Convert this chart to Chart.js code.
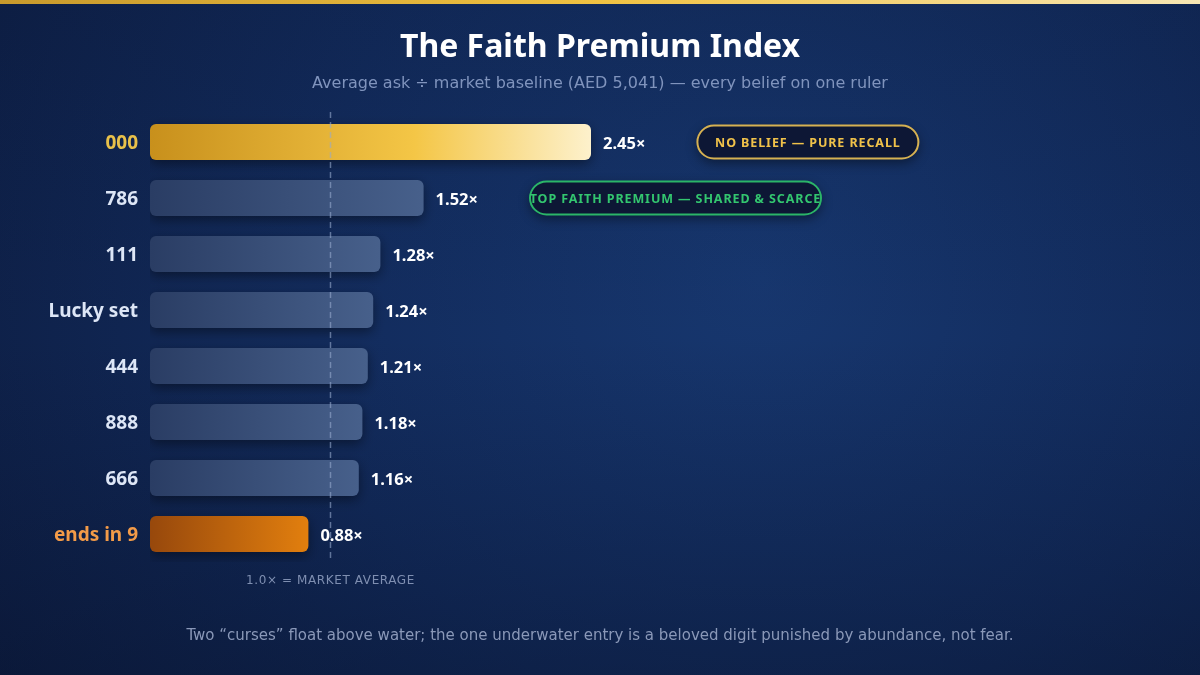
<!DOCTYPE html>
<html><head><meta charset="utf-8">
<script src="https://cdn.jsdelivr.net/npm/chart.js@4"></script>
<style>html,body{margin:0;padding:0;background:#0c1a3b;}#wrap{width:1200px;height:675px;position:relative;}</style>
</head><body><div id="wrap"><canvas id="c" width="1200" height="675"></canvas></div>
<script>
const categories = ["000","786","111","Lucky set","444","888","666","ends in 9"];
const values = [2.45,1.52,1.28,1.24,1.21,1.18,1.16,0.88];
const valueLabels = ["2.45×","1.52×","1.28×","1.24×","1.21×","1.18×","1.16×","0.88×"];
const baseline = 1.0;
const baselineLabel = "1.0× = MARKET AVERAGE";
const badgeRows = [0,1];
const badgeTexts = ["NO BELIEF — PURE RECALL","TOP FAITH PREMIUM — SHARED & SCARCE"];
const titleText = "The Faith Premium Index";
const subtitleText = "Average ask ÷ market baseline (AED 5,041) — every belief on one ruler";
const footerText = "Two “curses” float above water; the one underwater entry is a beloved digit punished by abundance, not fear.";

const BOLD = '"Noto Sans", "Open Sans", sans-serif';
const REG = '"DejaVu Sans", sans-serif';

function barGradient(ctx){
  const chart = ctx.chart;
  const area = chart.chartArea;
  if(!area) return '#3a5080';
  const xs = chart.scales.x;
  const i = ctx.dataIndex;
  const x0 = xs.getPixelForValue(0), x1 = xs.getPixelForValue(values[i]);
  const g = chart.ctx.createLinearGradient(x0,0,x1,0);
  if(i===0){ g.addColorStop(0,'#c8901c'); g.addColorStop(0.6,'#f4c646'); g.addColorStop(1,'#fdf1cc'); }
  else if(i===values.length-1){ g.addColorStop(0,'#97480c'); g.addColorStop(1,'#e27f0e'); }
  else { g.addColorStop(0,'#2a3d64'); g.addColorStop(1,'#47608b'); }
  return g;
}

const bgPlugin = {
  id:'bg',
  beforeDraw(chart){
    const c = chart.ctx;
    c.save();
    const g = c.createRadialGradient(760,280,0,760,280,900);
    g.addColorStop(0,'#17376f'); g.addColorStop(0.5,'#122b5c'); g.addColorStop(1,'#0d1d42');
    c.fillStyle = g; c.fillRect(0,0,1200,675);
    const v = c.createLinearGradient(0,0,0,675);
    v.addColorStop(0,'rgba(8,18,45,0.15)'); v.addColorStop(0.5,'rgba(8,18,45,0)'); v.addColorStop(1,'rgba(6,14,36,0.35)');
    c.fillStyle = v; c.fillRect(0,0,1200,675);
    const t = c.createLinearGradient(0,0,1200,0);
    t.addColorStop(0,'#c89a2c'); t.addColorStop(0.5,'#f0c242'); t.addColorStop(1,'#f8e7b4');
    c.fillStyle = t; c.fillRect(0,0,1200,4);
    c.textAlign='center'; c.textBaseline='middle';
    c.fillStyle='#ffffff'; c.font='bold 32px '+BOLD;
    c.fillText(titleText,600,48);
    c.fillStyle='#8094bd'; c.font='16px '+REG;
    c.fillText(subtitleText,600,84);
    c.fillStyle='#8a98b8'; c.font='15px '+REG;
    c.fillText(footerText,600,636);
    c.restore();
  },
  beforeDatasetsDraw(chart){
    const c = chart.ctx; c.save();
    c.shadowColor='rgba(0,0,0,0.4)'; c.shadowBlur=12; c.shadowOffsetY=4;
  },
  afterDatasetsDraw(chart){
    chart.ctx.restore();
    const c = chart.ctx;
    const xs = chart.scales.x, ys = chart.scales.y;
    c.save();
    const bx = Math.round(xs.getPixelForValue(baseline))+0.5;
    c.strokeStyle='rgba(150,170,205,0.6)'; c.lineWidth=1.5; c.setLineDash([6,4]);
    c.beginPath(); c.moveTo(bx,chart.chartArea.top-2); c.lineTo(bx,chart.chartArea.bottom-2); c.stroke();
    c.setLineDash([]);
    c.font='12px '+REG; c.letterSpacing='0.6px'; c.fillStyle='#7f8fb1'; c.textAlign='center'; c.textBaseline='middle';
    c.fillText(baselineLabel,bx,581);
    c.letterSpacing='0px';
    const valueEnds = [];
    categories.forEach((cat,i)=>{
      const y = ys.getPixelForValue(i);
      c.font='bold 19px '+BOLD; c.textAlign='right'; c.textBaseline='middle';
      c.fillStyle = i===0 ? '#e9c14a' : (i===categories.length-1 ? '#f39b48' : '#dde6f6');
      c.fillText(cat,138,y+2);
      const vx = xs.getPixelForValue(values[i])+12;
      c.font='bold 16.5px '+BOLD; c.textAlign='left'; c.fillStyle='#ffffff';
      c.fillText(valueLabels[i],vx,y+2);
      valueEnds[i] = vx + c.measureText(valueLabels[i]).width;
    });
    const styles = [
      {w:221, border:'#d6b152', text:'#f0c24a'},
      {w:291, border:'#2bb568', text:'#33c66f'}
    ];
    badgeRows.forEach((row,k)=>{
      const st = styles[k];
      const y = ys.getPixelForValue(row);
      const left = valueEnds[row]+52;
      const h = 33, top = y - h/2;
      c.save();
      c.shadowColor='rgba(0,0,0,0.45)'; c.shadowBlur=12; c.shadowOffsetY=4;
      c.beginPath(); c.roundRect(left,top,st.w,h,h/2);
      c.fillStyle='#0d1735'; c.fill();
      c.restore();
      c.beginPath(); c.roundRect(left,top,st.w,h,h/2);
      c.strokeStyle=st.border; c.lineWidth=2; c.stroke();
      c.font='bold 12.5px '+BOLD; c.letterSpacing='0.9px'; c.fillStyle=st.text;
      c.textAlign='center'; c.textBaseline='middle';
      c.fillText(badgeTexts[k],left+st.w/2,y+1);
      c.letterSpacing='0px';
    });
    c.restore();
  }
};

new Chart(document.getElementById('c'),{
  type:'bar',
  data:{labels:categories,datasets:[{data:values,backgroundColor:barGradient,borderRadius:6,borderSkipped:false,barPercentage:0.643,categoryPercentage:1}]},
  options:{
    indexAxis:'y',responsive:false,animation:false,
    layout:{padding:{left:150,right:150,top:114,bottom:113}},
    plugins:{legend:{display:false},tooltip:{enabled:false}},
    scales:{
      x:{min:0,max:5,display:false,grid:{display:false}},
      y:{display:false,grid:{display:false}}
    }
  },
  plugins:[bgPlugin]
});
</script></body></html>
